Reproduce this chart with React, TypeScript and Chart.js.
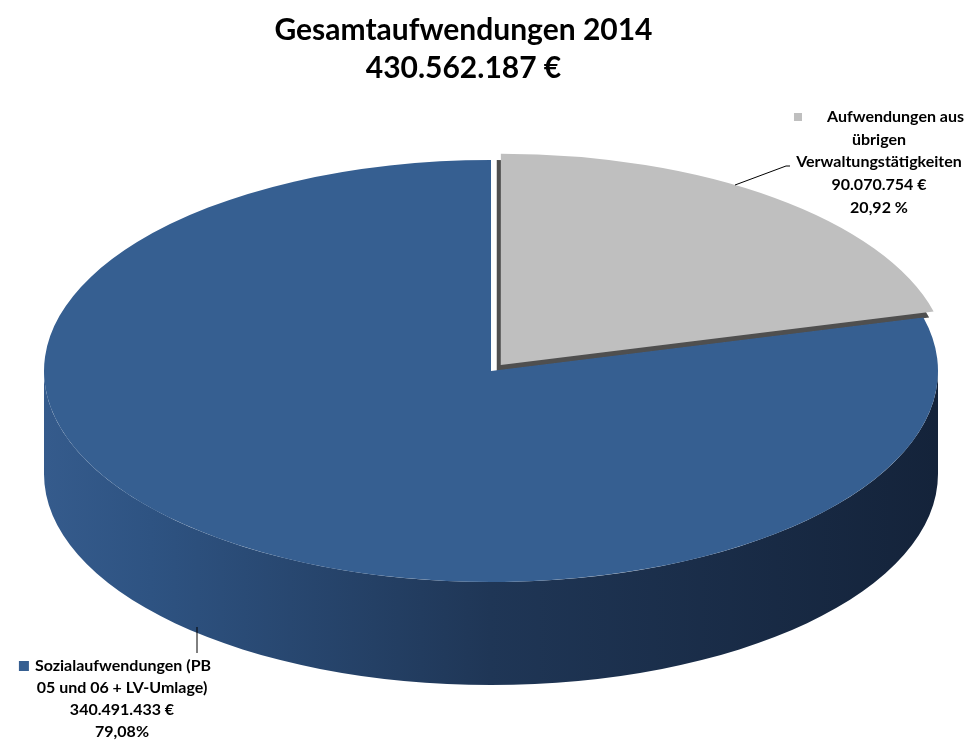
import React, { useEffect, useRef } from 'react';
import { Chart, registerables } from 'chart.js';

Chart.register(...registerables);

// ---------- data ----------
const categories = [
  'Aufwendungen aus übrigen Verwaltungstätigkeiten',
  'Sozialaufwendungen (PB 05 und 06 + LV-Umlage)',
];
const values = [90070754, 340491433];
const labelLinesGray = ['Aufwendungen aus', 'übrigen', 'Verwaltungstätigkeiten', '90.070.754 €', '20,92 %'];
const labelLinesBlue = ['Sozialaufwendungen (PB', '05 und 06 + LV-Umlage)', '340.491.433 €', '79,08%'];
const titleLines = ['Gesamtaufwendungen 2014', '430.562.187 €'];
const sliceColors = ['#bfbfbf', '#365f91'];

// ---------- style / layout ----------
const FONT = 'Lato, "Open Sans", sans-serif';
const CX = 491;
const CY = 371;
const RX = 447;
const RY = 211;
const K = RY / RX;
const DEPTH = 103;

const pie3dPlugin = {
  id: 'pie3d',
  beforeDatasetsDraw(chart: any) {
    const ctx = chart.ctx as CanvasRenderingContext2D;
    const meta = chart.getDatasetMeta(0);
    const ref = meta.data[1];
    const { x, y, outerRadius } = ref.getProps(['x', 'y', 'outerRadius'], true);
    const R = outerRadius;
    const ry = R * K;

    // front side wall (visible front half, angles 0..PI)
    ctx.save();
    const g = ctx.createLinearGradient(CX - R, 0, CX + R, 0);
    g.addColorStop(0, '#355b8c');
    g.addColorStop(0.12, '#2e5382');
    g.addColorStop(0.5, '#1f3656');
    g.addColorStop(1, '#14233a');
    ctx.fillStyle = g;
    ctx.beginPath();
    ctx.ellipse(CX, CY, R, ry, 0, 0, Math.PI, false);
    ctx.lineTo(CX - R, CY + DEPTH);
    ctx.ellipse(CX, CY + DEPTH, R, ry, 0, Math.PI, 0, true);
    ctx.closePath();
    ctx.fill();
    ctx.restore();

    // squash everything that follows into an ellipse
    ctx.save();
    ctx.translate(CX, CY);
    ctx.scale(1, K);
    ctx.translate(-x, -y);

    // dark side of the exploded slice
    const el = meta.data[0];
    const p = el.getProps(['x', 'y', 'startAngle', 'endAngle', 'outerRadius'], true);
    const off = (el.options.offset || 0) / 4;
    const half = (p.startAngle + p.endAngle) / 2;
    ctx.save();
    ctx.translate(-4, 6 / K);
    ctx.translate(Math.cos(half) * off, Math.sin(half) * off);
    ctx.fillStyle = '#4f4f4f';
    ctx.beginPath();
    ctx.moveTo(p.x, p.y);
    ctx.arc(p.x, p.y, p.outerRadius, p.startAngle, p.endAngle);
    ctx.closePath();
    ctx.fill();
    ctx.restore();
  },
  afterDatasetsDraw(chart: any) {
    chart.ctx.restore();
  },
};

const labelsPlugin = {
  id: 'pieLabels',
  afterDraw(chart: any) {
    const ctx = chart.ctx as CanvasRenderingContext2D;
    const blocks = [
      { lines: labelLinesGray, color: sliceColors[0], cx: 879, firstCx: 879, y0: 117, lh: 22.6, sq: 8, gap: 25,
        leader: [[735, 185], [786, 166], [790, 166]] },
      { lines: labelLinesBlue, color: sliceColors[1], cx: 122, firstCx: 115, y0: 666, lh: 22, sq: 10, gap: 6,
        leader: [[197, 627], [197, 653]] },
    ];
    ctx.save();
    ctx.font = `bold 16px ${FONT}`;
    ctx.textBaseline = 'middle';
    for (const b of blocks) {
      ctx.strokeStyle = '#000';
      ctx.lineWidth = 1;
      ctx.beginPath();
      b.leader.forEach(([lx, ly], i) => (i === 0 ? ctx.moveTo(lx, ly) : ctx.lineTo(lx, ly)));
      ctx.stroke();
      b.lines.forEach((t, i) => {
        const yy = b.y0 + i * b.lh;
        ctx.fillStyle = '#000';
        if (i === 0) {
          const w = ctx.measureText(t).width;
          const total = b.sq + b.gap + w;
          const left = b.firstCx - total / 2;
          ctx.fillStyle = b.color;
          ctx.fillRect(left, yy - b.sq / 2, b.sq, b.sq);
          ctx.fillStyle = '#000';
          ctx.textAlign = 'left';
          ctx.fillText(t, left + b.sq + b.gap, yy);
        } else {
          ctx.textAlign = 'center';
          ctx.fillText(t, b.cx, yy);
        }
      });
    }
    ctx.restore();
  },
};

export default function App() {
  const ref = useRef<HTMLCanvasElement>(null);
  useEffect(() => {
    if (!ref.current) return;
    const chart = new Chart(ref.current, {
      type: 'pie',
      data: {
        labels: categories,
        datasets: [
          {
            data: values,
            backgroundColor: sliceColors,
            borderWidth: 0,
            offset: [64, 0],
            radius: RX,
            clip: false,
          } as any,
        ],
      },
      options: {
        responsive: false,
        animation: false,
        events: [],
        layout: { padding: { left: 0, right: 52, top: 0, bottom: 0 } },
        plugins: {
          legend: { display: false },
          tooltip: { enabled: false },
          title: {
            display: true,
            text: titleLines,
            color: '#000',
            font: { family: FONT, size: 30, weight: 'bold', lineHeight: 1.27 },
            padding: { top: 11, bottom: 0 },
          },
        },
      } as any,
      plugins: [pie3dPlugin, labelsPlugin],
    });
    return () => chart.destroy();
  }, []);
  return (
    <div style={{ position: 'absolute', left: 0, top: 0, width: 979, height: 740, background: '#fff' }}>
      <canvas ref={ref} width={979} height={740} style={{ display: 'block' }} />
    </div>
  );
}
